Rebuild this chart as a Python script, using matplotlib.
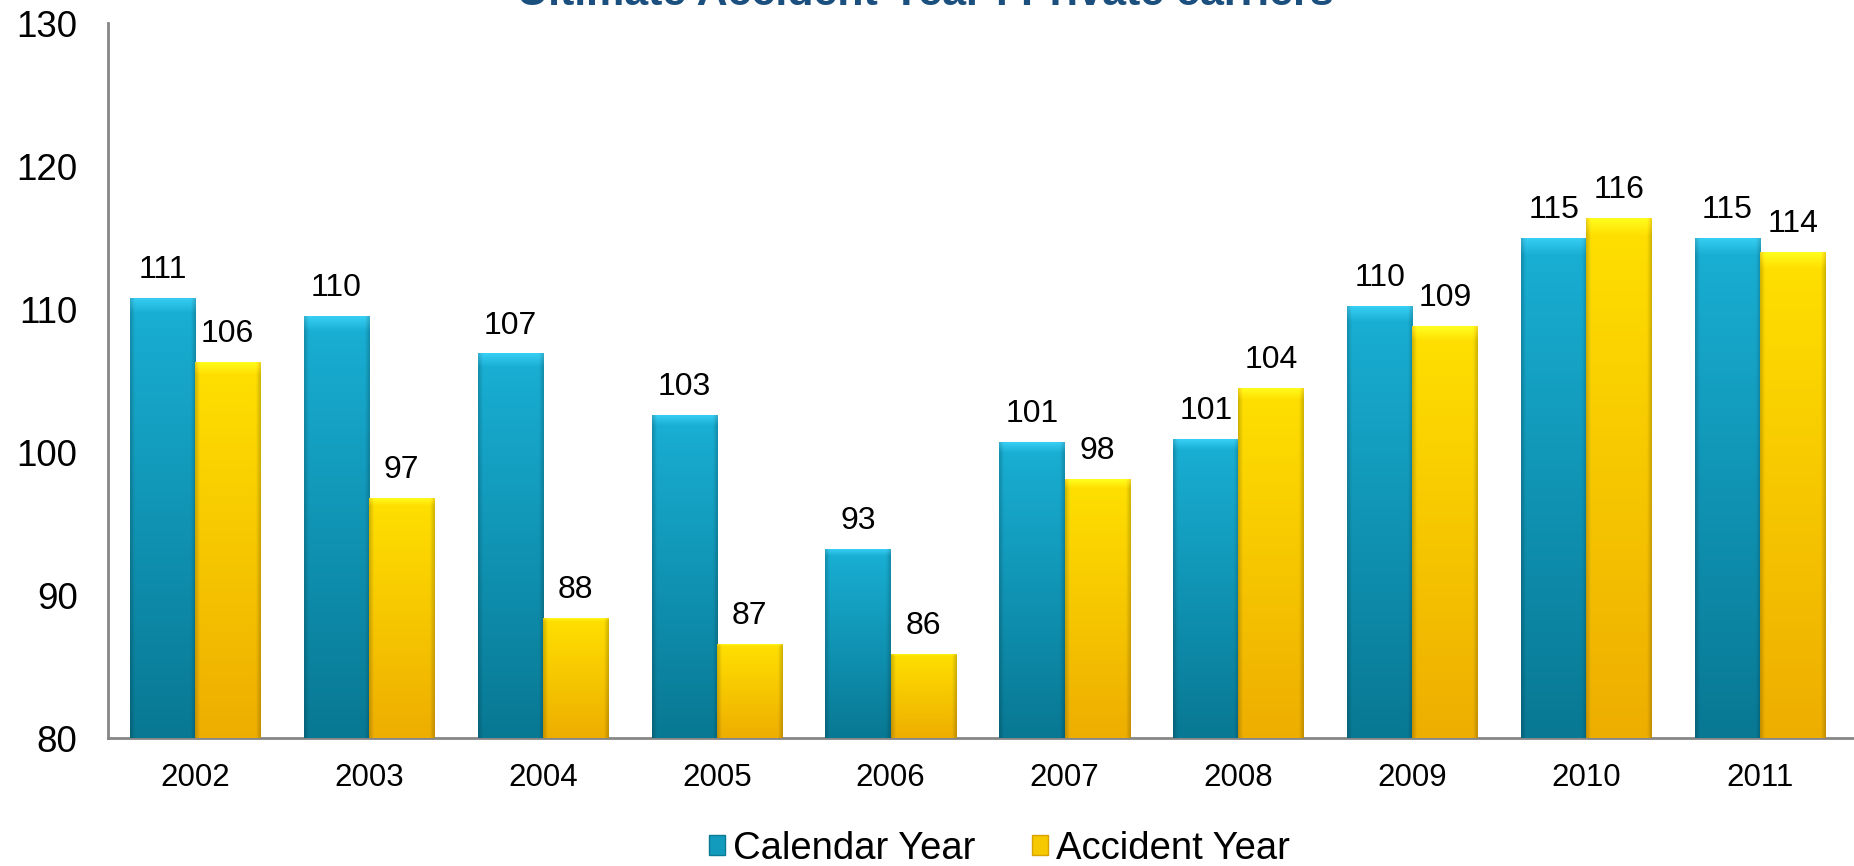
import numpy as np
import matplotlib
matplotlib.use("Agg")
from matplotlib import pyplot as plt
from matplotlib.patches import Patch
from matplotlib.colors import to_rgb

plt.rcParams['font.family'] = ['Liberation Sans', 'DejaVu Sans']

years = ['2002', '2003', '2004', '2005', '2006', '2007', '2008', '2009', '2010', '2011']
calendar_year = [110.8, 109.5, 106.9, 102.6, 93.2, 100.7, 100.9, 110.2, 115.0, 115.0]
accident_year = [106.3, 96.8, 88.4, 86.6, 85.9, 98.1, 104.5, 108.8, 116.4, 114.0]

title = 'Ultimate Accident-Year : Private carriers'

blue_top, blue_bot = '#19b0d5', '#087893'
gold_top, gold_bot = '#ffe000', '#eeae00'


def bar_image(top, bottom, n=300, m=60):
    # vertical gradient, darker side edges, lighter bevel fading in at the top
    t = np.linspace(0, 1, n)[:, None, None]
    c = (1 - t) * np.array(to_rgb(top)) + t * np.array(to_rgb(bottom))
    c = np.repeat(c, m, axis=1)
    x = np.linspace(0, 1, m)
    edge = np.clip(np.minimum(x, 1 - x) / 0.07, 0, 1)
    c = c * (0.82 + 0.18 * edge)[None, :, None]
    k = np.clip(1 - np.linspace(0, 1, n) / 0.035, 0, 1)[:, None, None]
    c = np.clip(c + 0.12 * k, 0, 1)
    return c


def gradient_bars(ax, bars, top, bottom):
    img = bar_image(top, bottom)
    for b in bars:
        x0, y0 = b.get_x(), b.get_y()
        w, h = b.get_width(), b.get_height()
        im = ax.imshow(img, extent=[x0, x0 + w, y0, y0 + h], aspect='auto',
                       origin='upper', zorder=3, interpolation='bilinear')
        im.set_clip_path(b)


fig = plt.figure(figsize=(18.54, 8.66), dpi=100)
ax = fig.add_axes([0.0583, 0.1478, 0.9417, 0.8256])

x = np.arange(len(years))
w = 0.375
base = 80
b1 = ax.bar(x - w / 2, np.array(calendar_year) - base, w, bottom=base,
            color=blue_top, linewidth=0, zorder=2)
b2 = ax.bar(x + w / 2, np.array(accident_year) - base, w, bottom=base,
            color=gold_top, linewidth=0, zorder=2)
gradient_bars(ax, b1, blue_top, blue_bot)
gradient_bars(ax, b2, gold_top, gold_bot)

for xs, vals in ((x - w / 2, calendar_year), (x + w / 2, accident_year)):
    for xi, v in zip(xs, vals):
        ax.annotate(f'{v:.0f}', (xi, v), xytext=(0, 20), textcoords='offset points',
                    ha='center', va='center', fontsize=23, color='black')

ax.set_xlim(-0.5, len(years) - 0.46)
ax.set_ylim(80, 130)
ax.set_yticks([80, 90, 100, 110, 120, 130])
ax.set_xticks(x)
ax.set_xticklabels(years)
ax.tick_params(axis='y', labelsize=26.5, length=0, pad=22)
ax.tick_params(axis='x', labelsize=22.5, length=0, pad=18)
for s in ('top', 'right'):
    ax.spines[s].set_visible(False)
for s in ('left', 'bottom'):
    ax.spines[s].set_color('#868686')
    ax.spines[s].set_linewidth(2)

fig.text(0.499, 1 - 5 / 866, title, ha='center', va='baseline',
         fontsize=31, fontweight='bold', color='#1b4f7e')

handles = [Patch(facecolor='#139bbd', edgecolor='#0a7a95', label='Calendar Year'),
           Patch(facecolor='#f5c800', edgecolor='#d9a200', label='Accident Year')]
fig.legend(handles=handles, loc='center', bbox_to_anchor=(0.539, 1 - 849 / 866),
           ncol=2, frameon=False, fontsize=27.5, handlelength=0.42, handleheight=0.42,
           handletextpad=0.2, columnspacing=1.5)

fig.savefig('out.png', dpi=100)
